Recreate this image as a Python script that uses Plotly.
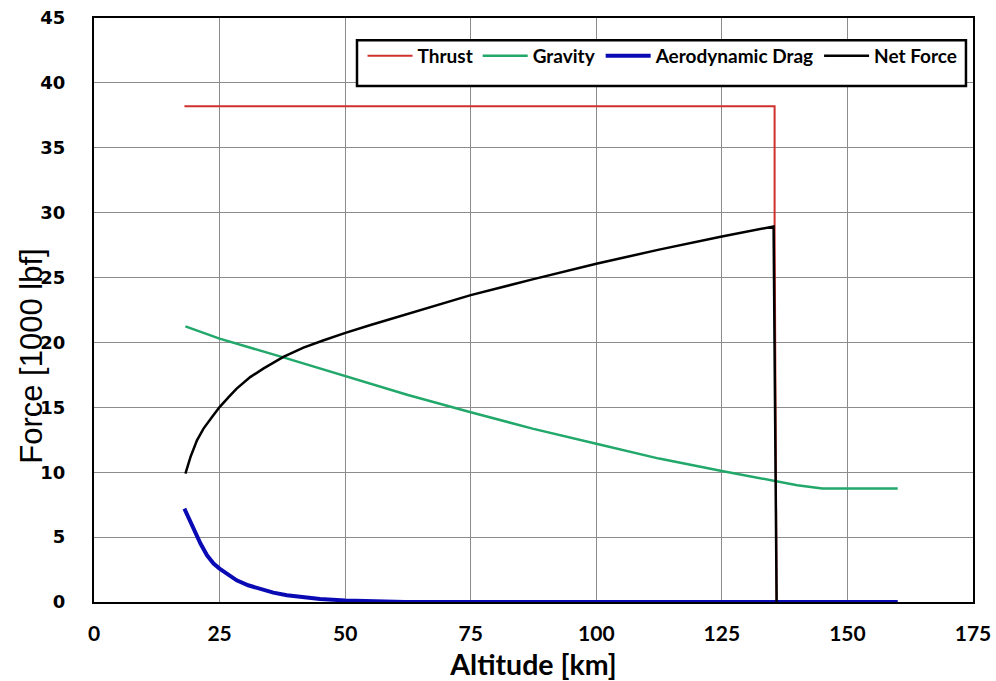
import plotly.graph_objects as go

# values (force in 1000 lbf, altitude in km)
thrust_alt = [18, 135.5, 135.5, 135.9, 160]
thrust = [38.2, 38.2, 28.9, 0, 0]

gravity_alt = [18.2, 25, 37.7, 50, 62.5, 75, 87.3, 100, 112.5, 125, 136.3, 140, 145, 150, 160]
gravity = [21.24, 20.29, 18.85, 17.39, 15.95, 14.62, 13.36, 12.2, 11.05, 10.09, 9.25, 9.0, 8.75, 8.75, 8.75]

drag_alt = [18, 19.2, 20.2, 21.2, 22.5, 23.8, 25, 26.8, 28.4, 30.7, 33.1, 35.7, 38.4, 41.7,
            45, 50, 55, 62, 160]
drag = [7.19, 6.16, 5.27, 4.5, 3.6, 2.96, 2.57, 2.06, 1.67, 1.29, 0.98, 0.72, 0.52, 0.34,
        0.23, 0.12, 0.05, 0, 0]

net_alt = [18.2, 19.2, 20.5, 21.8, 23.5, 25, 26.8, 28.4, 31.1, 33.7, 37.7, 41.7, 45.6, 49.9,
           54.9, 61.5, 68.2, 75, 87.3, 100, 112.5, 125, 135.3, 135.9]
net = [9.89, 11.17, 12.46, 13.36, 14.25, 15.02, 15.79, 16.44, 17.33, 17.98, 18.88, 19.6,
       20.15, 20.72, 21.32, 22.09, 22.86, 23.65, 24.86, 26.07, 27.15, 28.17, 28.94, 0]

fig = go.Figure()
fig.add_trace(go.Scatter(x=thrust_alt, y=thrust, mode="lines", name="Thrust",
                         line=dict(color="#d0312d", width=2)))
fig.add_trace(go.Scatter(x=gravity_alt, y=gravity, mode="lines", name="Gravity",
                         line=dict(color="#22a86a", width=2.5)))
fig.add_trace(go.Scatter(x=drag_alt, y=drag, mode="lines", name="Aerodynamic Drag",
                         line=dict(color="#0a0ab4", width=4)))
fig.add_trace(go.Scatter(x=net_alt, y=net, mode="lines", name="Net Force",
                         line=dict(color="black", width=2.5)))

axis_common = dict(showline=True, linecolor="black", linewidth=2, mirror=True,
                   showgrid=True, gridcolor="#8c8c8c", gridwidth=1, zeroline=False,
                   ticks="", automargin=False, layer="below traces")

fig.update_xaxes(range=[0, 175], dtick=25, **axis_common,
                 tickfont=dict(family="Lato, Arial", size=21, color="black", weight="bold"),
                 ticklabelstandoff=12,
                 title=dict(text="Altitude [km]", standoff=12,
                            font=dict(family="Lato, Arial", size=28.5, color="black",
                                      weight="bold")))
fig.update_yaxes(range=[0, 45], dtick=5, **axis_common,
                 tickfont=dict(family="DejaVu Sans, Verdana", size=18, color="black",
                               weight="bold"),
                 ticklabelstandoff=23)

# y axis title sits a little below the middle of the axis in the reference
fig.add_annotation(text="Force [1000 lbf]", textangle=-90, showarrow=False,
                   xref="paper", yref="paper", x=-0.0705, xanchor="center",
                   y=0.2325, yanchor="bottom",
                   font=dict(family="Liberation Sans, Arial", size=31, color="black"))

# legend frame
fig.add_shape(type="rect", xref="paper", yref="paper", x0=0.2992, x1=0.992,
              y0=0.8835, y1=0.962, fillcolor="white", line=dict(color="black", width=2.5),
              layer="above")

fig.update_layout(
    width=996, height=681,
    margin=dict(l=94, r=23, t=18, b=79),
    paper_bgcolor="white", plot_bgcolor="white",
    showlegend=True,
    legend=dict(orientation="h", x=0.3055, xanchor="left", y=0.935, yanchor="middle",
                bgcolor="rgba(0,0,0,0)", borderwidth=0,
                font=dict(family="Lato, Arial", size=19, color="black", weight="bold"),
                itemwidth=45, tracegroupgap=0),
)

# the page's default body margin would shift the figure; drop it
fig.write_html("out.html", config={"displayModeBar": False},
               post_script="document.body.style.margin='0';")
